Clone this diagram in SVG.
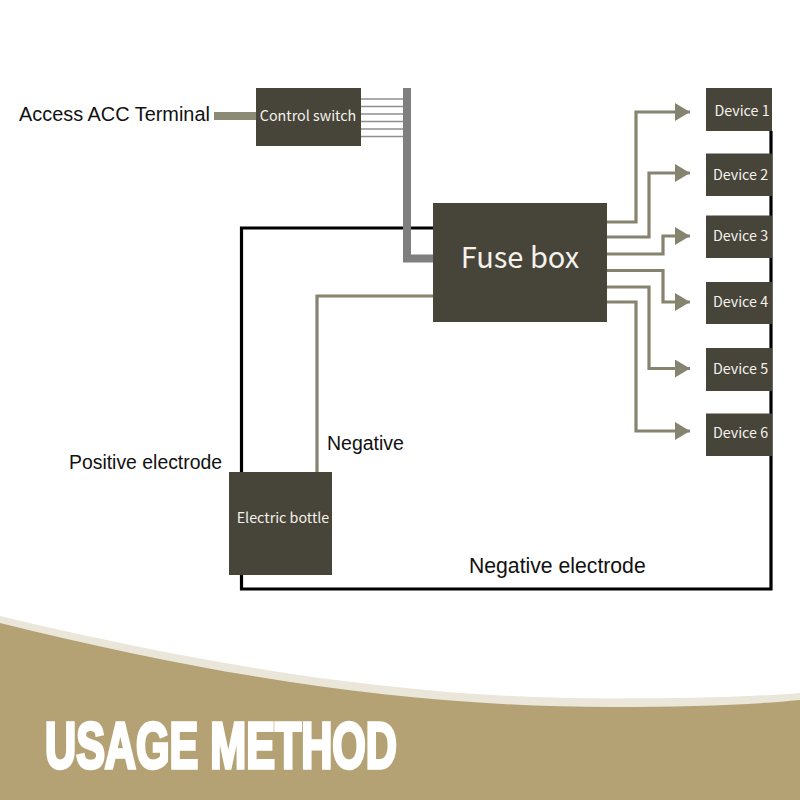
<svg xmlns="http://www.w3.org/2000/svg" width="800" height="800" viewBox="0 0 800 800">
<style>
.box{fill:#47443a}
.in{font-family:"Noto Sans CJK SC","Noto Sans",sans-serif;fill:#f4f2ea;text-anchor:middle;font-size:14.300px}
.lab{font-family:"Liberation Sans",Arial,sans-serif;fill:#111;font-size:19.900px}
.w{fill:none;stroke:#86836f;stroke-width:3.2}
.t{fill:none;stroke:#8e8e8e;stroke-width:1.6}
.k{fill:none;stroke:#000;stroke-width:3.2}
</style>
<defs><marker id="a" markerUnits="userSpaceOnUse" markerWidth="16" markerHeight="18" refX="15" refY="9" orient="auto"><path d="M0 0L15 9L0 18Z" fill="#86836f"/></marker></defs>
<rect width="800" height="800" fill="#fff"/>
<g id="banner">
<path d="M0 616C230 671 420 698.500 612 698.500C690 698.500 750 697 800 693V800H0Z" fill="#ebe6da"/>
<path d="M0 623C230 680 420 707 612 707C690 707 750 705 800 700V800H0Z" fill="#b4a274"/>
<text x="45" y="767.500" textLength="352" lengthAdjust="spacingAndGlyphs" font-family="'Liberation Sans',Arial,sans-serif" font-weight="700" font-size="64" fill="#fff" stroke="#fff" stroke-width="3.500" stroke-linejoin="miter">USAGE METHOD</text>
</g>
<g id="connectors">
<path class="k" d="M433 228H241.500V589H771V131"/>
<path class="t" d="M361 99H403M361 106.500H403M361 114H403M361 121.500H403M361 129H403M361 136.500H403"/>
<path d="M407 88V258.500H433" fill="none" stroke="#7f7f7f" stroke-width="8"/>
<path d="M214 116H256" fill="none" stroke="#8c8a75" stroke-width="8"/>
<path class="w" d="M433 296H317V472"/>
<path class="w" marker-end="url(#a)" d="M607 222H636V112H690"/>
<path class="w" marker-end="url(#a)" d="M607 237H649V173H690"/>
<path class="w" marker-end="url(#a)" d="M607 254H663V236H690"/>
<path class="w" marker-end="url(#a)" d="M607 270.500H663V302H690"/>
<path class="w" marker-end="url(#a)" d="M607 287H649V368.500H690"/>
<path class="w" marker-end="url(#a)" d="M607 302H636V431H690"/>
</g>
<g id="control-switch"><rect class="box" x="256" y="88" width="105" height="58"/><text class="in" x="308" y="121">Control switch</text></g>
<g id="fuse-box"><rect class="box" x="433" y="203" width="174" height="119"/><text class="in" x="520" y="268" style="font-size:29px">Fuse box</text></g>
<g id="device-1"><rect class="box" x="706" y="88" width="66" height="43"/><text class="in" x="742" y="115.500">Device 1</text></g>
<g id="device-2"><rect class="box" x="706" y="153.500" width="66" height="42.500"/><text class="in" x="740.500" y="180">Device 2</text></g>
<g id="device-3"><rect class="box" x="706" y="215.500" width="66" height="42.500"/><text class="in" x="740.500" y="241">Device 3</text></g>
<g id="device-4"><rect class="box" x="706" y="282" width="66" height="42"/><text class="in" x="740.500" y="307">Device 4</text></g>
<g id="device-5"><rect class="box" x="706" y="348" width="66" height="43"/><text class="in" x="740.500" y="374">Device 5</text></g>
<g id="device-6"><rect class="box" x="706" y="413.500" width="66" height="42.500"/><text class="in" x="740.500" y="438">Device 6</text></g>
<g id="electric-bottle"><rect class="box" x="229" y="472" width="103" height="103"/><text class="in" x="283" y="523">Electric bottle</text></g>
<g id="labels">
<text class="lab" x="19" y="121">Access ACC Terminal</text>
<text class="lab" x="69" y="469" style="font-size:19.400px">Positive electrode</text>
<text class="lab" x="327" y="450" style="font-size:19.500px">Negative</text>
<text class="lab" x="469" y="573" style="font-size:21.200px">Negative electrode</text>
</g>
</svg>
